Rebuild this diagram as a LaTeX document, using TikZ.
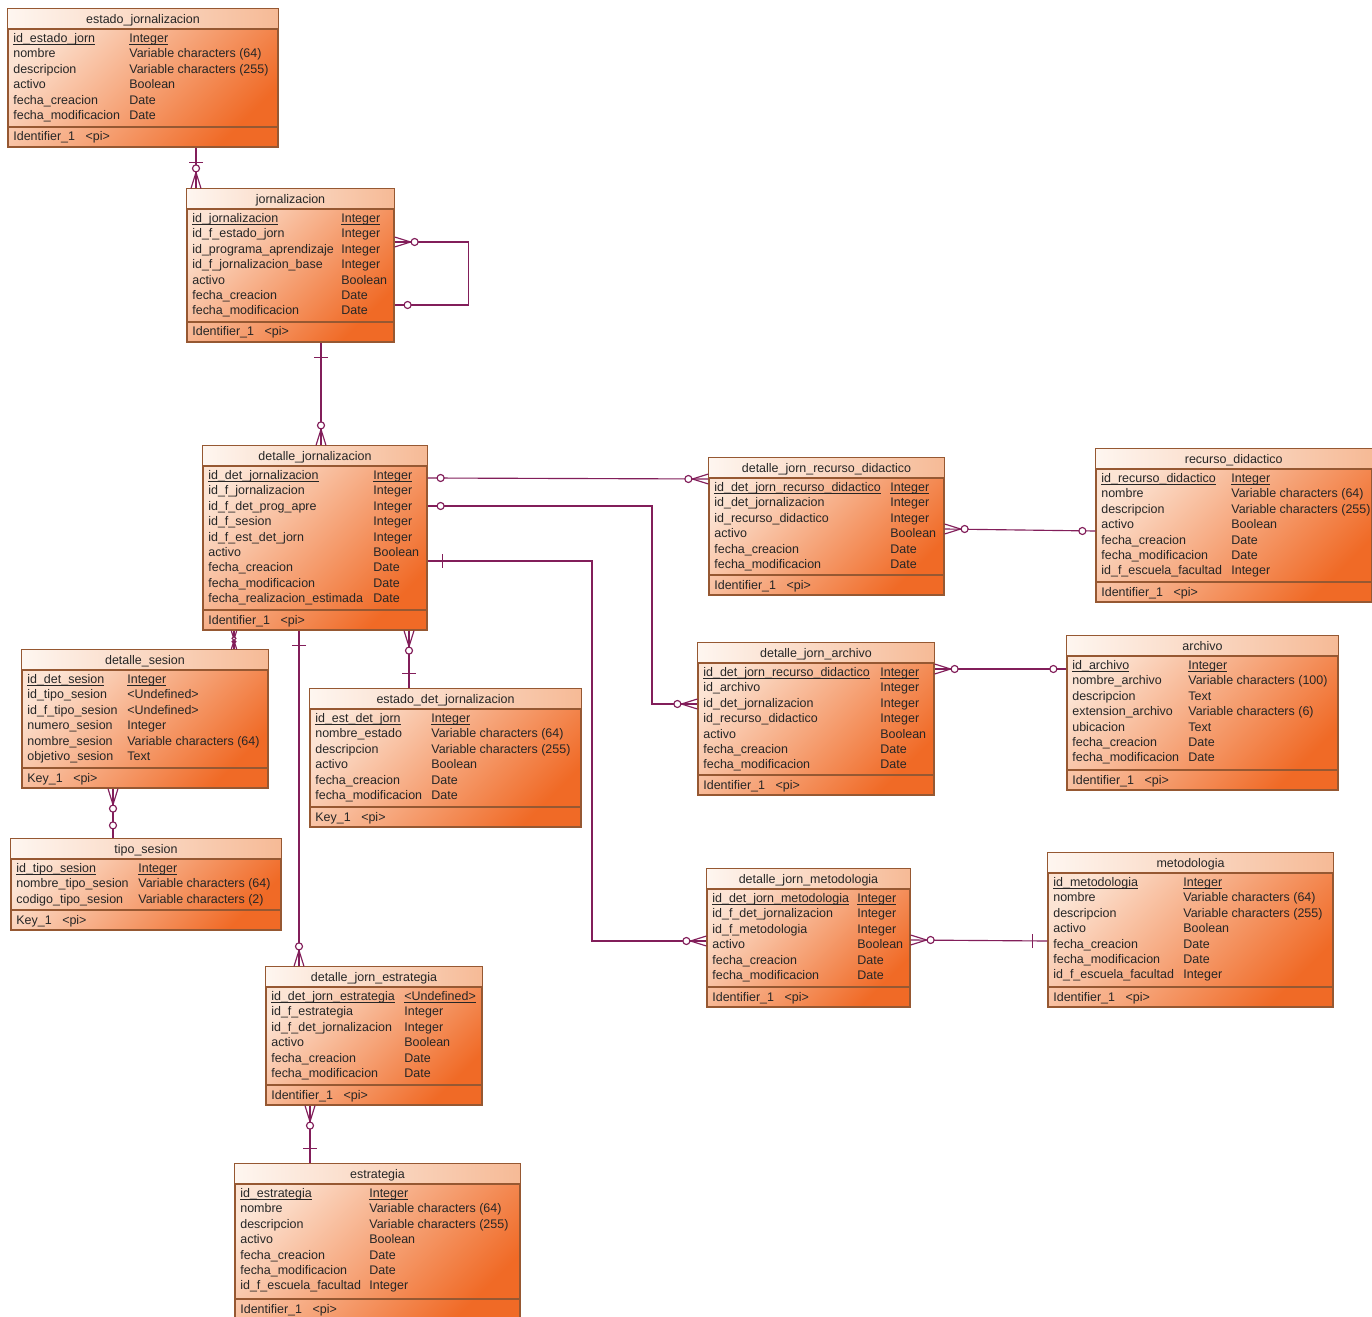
\documentclass[tikz,border=0pt]{standalone}
\usepackage{fontspec}
\setmainfont{Liberation Sans}
\usepackage{xcolor}
\usepackage{tikz}
\usetikzlibrary{fit,calc}

\definecolor{erline}{RGB}{150,88,50}
\definecolor{erlight}{RGB}{252,228,212}
\definecolor{ermid}{RGB}{247,168,122}
\definecolor{erdark}{RGB}{240,106,38}
\definecolor{bandlight}{RGB}{254,246,240}
\definecolor{banddark}{RGB}{246,186,150}
\definecolor{relcol}{RGB}{130,30,90}
\definecolor{ertext}{RGB}{38,38,38}

% Primary key text, underlined just below the baseline.
\newcommand{\pkey}[1]{\setbox0\hbox{#1}\rlap{\rule[-1.1pt]{\wd0}{0.45pt}}\box0}

% One table of the physical model: name, corners, title, type column, rows, key.
\newcommand{\erentity}[9]{%
  \node[entity,fit={(#2,#3) (#4,#5)}] (#1) {};
  \shade[band] (#2,#3) rectangle (#4,#3+20);
  \draw[edge] (#2,#3+20) -- (#4,#3+20) (#2,#5-20) -- (#4,#5-20);
  \draw[edge] (#1.north west) rectangle (#1.south east);
  \node[attr,anchor=base] (#1-title) at ({(#2+#4)/2},#3+14.5) {#6};
  \foreach \nm/\ty [count=\k] in {#8}{
    \node[attr] (#1-n\k) at (#2+5,{#3+33.5+(\k-1)*15.4}) {\nm};
    \node[attr] (#1-t\k) at (#7,{#3+33.5+(\k-1)*15.4}) {\ty};
  }
  \node[attr] (#1-key) at (#2+5,#5-6) {#9};
}

\begin{document}
\begin{tikzpicture}[x=0.02cm,y=-0.02cm,
 font=\fontsize{7.1}{8.5}\selectfont,
 entity/.style={draw=erline,line width=0.7pt,inner sep=0pt,
   top color=erlight,middle color=ermid,bottom color=erdark,shading angle=45},
 band/.style={left color=bandlight,right color=banddark},
 edge/.style={draw=erline,line width=0.7pt},
 attr/.style={anchor=base west,inner sep=0pt,text=ertext},
 rel/.style={draw=relcol,line width=0.65pt},
 crowo/.pic={\draw[rel] (0,-5) -- (16,0) -- (0,5);
   \draw[rel,fill=white] (20,0) circle (2pt);},
 one/.pic={\draw[rel] (15,-7) -- (15,7);},
 zero/.pic={\draw[rel,fill=white] (13,0) circle (2pt);}]
\useasboundingbox (0,0) rectangle (1372,1317);
\fill[white] (0,0) rectangle (1372,1317);

% Tables
\erentity{ej}{8}{9}{278}{147}{estado\_jornalizacion}{129}{%
 \pkey{id\_estado\_jorn}/\pkey{Integer},
 nombre/Variable characters (64),
 descripcion/Variable characters (255),
 activo/Boolean,
 fecha\_creacion/Date,
 fecha\_modificacion/Date}{Identifier\_1\hspace{6pt}<pi>}
\erentity{jorn}{187}{189}{394}{342}{jornalizacion}{341}{%
 \pkey{id\_jornalizacion}/\pkey{Integer},
 id\_f\_estado\_jorn/Integer,
 id\_programa\_aprendizaje/Integer,
 id\_f\_jornalizacion\_base/Integer,
 activo/Boolean,
 fecha\_creacion/Date,
 fecha\_modificacion/Date}{Identifier\_1\hspace{6pt}<pi>}
\erentity{dj}{203}{446}{427}{630}{detalle\_jornalizacion}{373}{%
 \pkey{id\_det\_jornalizacion}/\pkey{Integer},
 id\_f\_jornalizacion/Integer,
 id\_f\_det\_prog\_apre/Integer,
 id\_f\_sesion/Integer,
 id\_f\_est\_det\_jorn/Integer,
 activo/Boolean,
 fecha\_creacion/Date,
 fecha\_modificacion/Date,
 fecha\_realizacion\_estimada/Date}{Identifier\_1\hspace{6pt}<pi>}
\erentity{djrd}{709}{458}{944}{595}{detalle\_jorn\_recurso\_didactico}{890}{%
 \pkey{id\_det\_jorn\_recurso\_didactico}/\pkey{Integer},
 id\_det\_jornalizacion/Integer,
 id\_recurso\_didactico/Integer,
 activo/Boolean,
 fecha\_creacion/Date,
 fecha\_modificacion/Date}{Identifier\_1\hspace{6pt}<pi>}
\erentity{rd}{1096}{449}{1371.5}{602}{recurso\_didactico}{1231}{%
 \pkey{id\_recurso\_didactico}/\pkey{Integer},
 nombre/Variable characters (64),
 descripcion/Variable characters (255),
 activo/Boolean,
 fecha\_creacion/Date,
 fecha\_modificacion/Date,
 id\_f\_escuela\_facultad/Integer}{Identifier\_1\hspace{6pt}<pi>}
\erentity{dja}{698}{643}{934}{795}{detalle\_jorn\_archivo}{880}{%
 \pkey{id\_det\_jorn\_recurso\_didactico}/\pkey{Integer},
 id\_archivo/Integer,
 id\_det\_jornalizacion/Integer,
 id\_recurso\_didactico/Integer,
 activo/Boolean,
 fecha\_creacion/Date,
 fecha\_modificacion/Date}{Identifier\_1\hspace{6pt}<pi>}
\erentity{arch}{1067}{636}{1338}{790}{archivo}{1188}{%
 \pkey{id\_archivo}/\pkey{Integer},
 nombre\_archivo/Variable characters (100),
 descripcion/Text,
 extension\_archivo/Variable characters (6),
 ubicacion/Text,
 fecha\_creacion/Date,
 fecha\_modificacion/Date}{Identifier\_1\hspace{6pt}<pi>}
\erentity{ds}{22}{650}{268}{788}{detalle\_sesion}{127}{%
 \pkey{id\_det\_sesion}/\pkey{Integer},
 id\_tipo\_sesion/<Undefined>,
 id\_f\_tipo\_sesion/<Undefined>,
 numero\_sesion/Integer,
 nombre\_sesion/Variable characters (64),
 objetivo\_sesion/Text}{Key\_1\hspace{6pt}<pi>}
\erentity{edj}{310}{689}{581}{827}{estado\_det\_jornalizacion}{431}{%
 \pkey{id\_est\_det\_jorn}/\pkey{Integer},
 nombre\_estado/Variable characters (64),
 descripcion/Variable characters (255),
 activo/Boolean,
 fecha\_creacion/Date,
 fecha\_modificacion/Date}{Key\_1\hspace{6pt}<pi>}
\erentity{ts}{11}{839}{281}{930}{tipo\_sesion}{138}{%
 \pkey{id\_tipo\_sesion}/\pkey{Integer},
 nombre\_tipo\_sesion/Variable characters (64),
 codigo\_tipo\_sesion/Variable characters (2)}{Key\_1\hspace{6pt}<pi>}
\erentity{djm}{707}{869}{910}{1007}{detalle\_jorn\_metodologia}{857}{%
 \pkey{id\_det\_jorn\_metodologia}/\pkey{Integer},
 id\_f\_det\_jornalizacion/Integer,
 id\_f\_metodologia/Integer,
 activo/Boolean,
 fecha\_creacion/Date,
 fecha\_modificacion/Date}{Identifier\_1\hspace{6pt}<pi>}
\erentity{met}{1048}{853}{1333}{1007}{metodologia}{1183}{%
 \pkey{id\_metodologia}/\pkey{Integer},
 nombre/Variable characters (64),
 descripcion/Variable characters (255),
 activo/Boolean,
 fecha\_creacion/Date,
 fecha\_modificacion/Date,
 id\_f\_escuela\_facultad/Integer}{Identifier\_1\hspace{6pt}<pi>}
\erentity{dje}{266}{967}{482}{1105}{detalle\_jorn\_estrategia}{404}{%
 \pkey{id\_det\_jorn\_estrategia}/\pkey{<Undefined>},
 id\_f\_estrategia/Integer,
 id\_f\_det\_jornalizacion/Integer,
 activo/Boolean,
 fecha\_creacion/Date,
 fecha\_modificacion/Date}{Identifier\_1\hspace{6pt}<pi>}
\erentity{estr}{235}{1164}{520}{1319}{estrategia}{369}{%
 \pkey{id\_estrategia}/\pkey{Integer},
 nombre/Variable characters (64),
 descripcion/Variable characters (255),
 activo/Boolean,
 fecha\_creacion/Date,
 fecha\_modificacion/Date,
 id\_f\_escuela\_facultad/Integer}{Identifier\_1\hspace{6pt}<pi>}

% References between tables
\draw[rel] (ej.south -| 196,0) -- (jorn.north -| 196,0);
\draw[rel] (jorn.east |- 0,242) -- ++(74,0) |- (jorn.east |- 0,305);
\draw[rel] (jorn.south -| 321,0) -- (dj.north -| 321,0);
\draw[rel] (dj.east |- 0,478) -- (djrd.west |- 0,479);
\draw[rel] (dj.east |- 0,506) -- (652,506) |- (dja.west |- 0,704);
\draw[rel] (dj.east |- 0,561) -- (592,561) |- (djm.west |- 0,941);
\draw[rel] (djrd.east |- 0,529) -- (rd.west |- 0,531);
\draw[rel] (dja.east |- 0,669) -- (arch.west |- 0,669);
\draw[rel] (djm.east |- 0,940) -- (met.west |- 0,941);
\draw[rel] (dj.south -| 234,0) -- (ds.north -| 234,0);
\draw[rel] (dj.south -| 409,0) -- (edj.north -| 409,0);
\draw[rel] (dj.south -| 299,0) -- (dje.north -| 299,0);
\draw[rel] (ds.south -| 113,0) -- (ts.north -| 113,0);
\draw[rel] (dje.south -| 310,0) -- (estr.north -| 310,0);

% Cardinality marks at the table edges
\pic[rotate=-90] at (ej.south -| 196,0) {one};
\pic[rotate=90] at (jorn.north -| 196,0) {crowo};
\pic at (jorn.east |- 0,242) {crowo};
\pic at (jorn.east |- 0,305) {zero};
\pic[rotate=-90] at (jorn.south -| 321,0) {one};
\pic[rotate=90] at (dj.north -| 321,0) {crowo};
\pic at (dj.east |- 0,478) {zero};
\pic[rotate=180] at (djrd.west |- 0,479) {crowo};
\pic at (dj.east |- 0,506) {zero};
\pic[rotate=180] at (dja.west |- 0,704) {crowo};
\pic at (dj.east |- 0,561) {one};
\pic[rotate=180] at (djm.west |- 0,941) {crowo};
\pic at (djrd.east |- 0,529) {crowo};
\pic[rotate=180] at (rd.west |- 0,531) {zero};
\pic at (dja.east |- 0,669) {crowo};
\pic[rotate=180] at (arch.west |- 0,669) {zero};
\pic at (djm.east |- 0,940) {crowo};
\pic[rotate=180] at (met.west |- 0,941) {one};
\pic[rotate=-90,scale=.55] at (dj.south -| 234,0) {crowo};
\pic[rotate=90,scale=.55] at (ds.north -| 234,0) {crowo};
\pic[rotate=-90] at (dj.south -| 409,0) {crowo};
\pic[rotate=90] at (edj.north -| 409,0) {one};
\pic[rotate=-90] at (dj.south -| 299,0) {one};
\pic[rotate=90] at (dje.north -| 299,0) {crowo};
\pic[rotate=-90] at (ds.south -| 113,0) {crowo};
\pic[rotate=90] at (ts.north -| 113,0) {zero};
\pic[rotate=-90] at (dje.south -| 310,0) {crowo};
\pic[rotate=90] at (estr.north -| 310,0) {one};
\end{tikzpicture}
\end{document}
